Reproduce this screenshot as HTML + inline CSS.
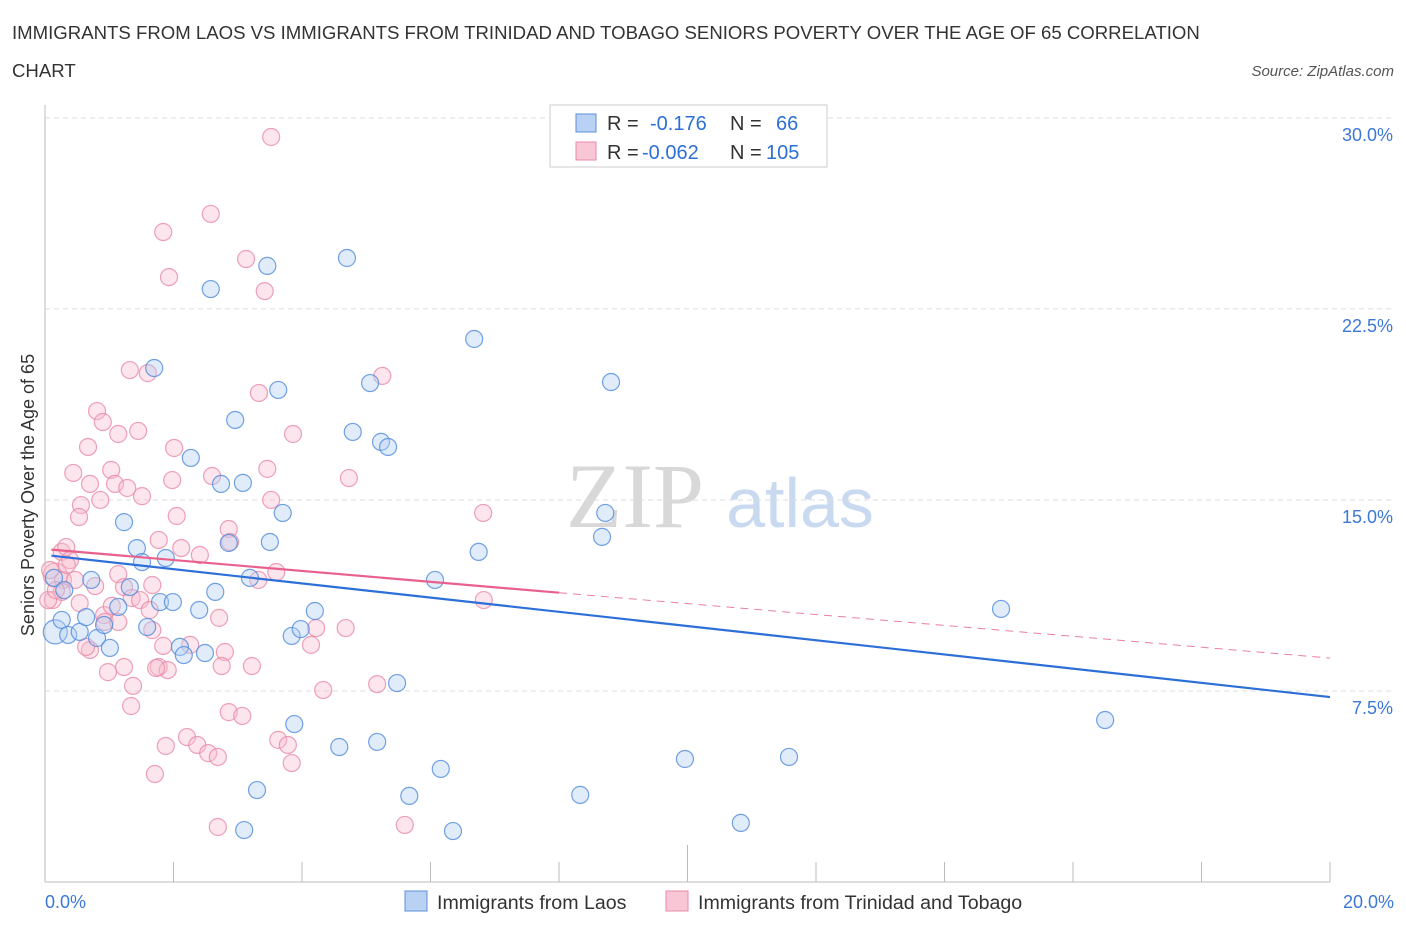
<!DOCTYPE html>
<html><head><meta charset="utf-8"><style>
body{margin:0;background:#fff;font-family:"Liberation Sans",sans-serif;}
#wrap{position:relative;width:1406px;height:930px;overflow:hidden;}
</style></head><body>
<div id="wrap">
<svg id="svg" width="1406" height="930" xmlns="http://www.w3.org/2000/svg">
<text x="12" y="39" font-size="18.6" fill="#333">IMMIGRANTS FROM LAOS VS IMMIGRANTS FROM TRINIDAD AND TOBAGO SENIORS POVERTY OVER THE AGE OF 65 CORRELATION</text>
<text x="12" y="77" font-size="18.6" fill="#333">CHART</text>
<text x="1394" y="76" font-size="15" fill="#555" font-style="italic" text-anchor="end">Source: ZipAtlas.com</text>
<text x="635" y="527" font-size="92" fill="#d8d8d8" text-anchor="middle" font-family="Liberation Serif,serif">ZIP</text>
<text x="800" y="527" font-size="70" fill="#c9daf0" text-anchor="middle">atlas</text>
<text transform="translate(34,495) rotate(-90)" font-size="18" fill="#333" text-anchor="middle">Seniors Poverty Over the Age of 65</text>
<g id="grid"></g><g id="marks"></g>
<g>
<rect x="550" y="105" width="277" height="62" fill="#fff" stroke="#ccc"/>
<rect x="576" y="114" width="20" height="18" fill="#b9d1f3" stroke="#5b8fd9"/>
<rect x="576" y="142" width="20" height="18" fill="#f8c6d4" stroke="#e98aa8"/>
<text x="607" y="130" font-size="20" fill="#333">R = <tspan x="650" fill="#2e6fd6">-0.176</tspan><tspan x="730">N =</tspan><tspan x="776" fill="#2e6fd6">66</tspan></text>
<text x="607" y="159" font-size="20" fill="#333">R = <tspan x="642" fill="#2e6fd6">-0.062</tspan><tspan x="730">N =</tspan><tspan x="766" fill="#2e6fd6">105</tspan></text>
</g>
<g>
<rect x="405" y="891" width="22" height="20" fill="#b9d1f3" stroke="#5b8fd9"/>
<text x="437" y="909" font-size="19.6" fill="#333">Immigrants from Laos</text>
<rect x="666" y="891" width="22" height="20" fill="#f8c6d4" stroke="#e98aa8"/>
<text x="698" y="909" font-size="19.6" fill="#333">Immigrants from Trinidad and Tobago</text>
</g>
</svg>
</div>
<script>
const yTicks=[7.5,15,22.5,30];
const yTickLabels=["7.5%","15.0%","22.5%","30.0%"];
const xTickLabels=["0.0%","20.0%"];
const blueX=[0.16,0.26,0.36,0.54,0.64,0.81,0.72,1.01,0.92,1.14,1.23,1.32,1.43,1.51,1.70,1.59,1.79,1.99,1.88,2.10,2.16,2.27,2.40,2.49,2.58,2.65,2.86,2.96,3.08,2.74,3.19,3.46,3.50,3.63,3.70,3.84,3.88,3.98,4.20,3.10,3.30,4.58,4.70,4.79,5.06,5.23,5.34,5.17,5.48,5.67,6.16,6.35,6.07,6.68,6.75,8.33,8.72,8.67,8.81,9.96,10.83,11.58,14.88,16.50,0.14,0.30];
const blueY=[9.82,10.29,9.70,9.82,10.40,9.58,11.86,9.19,10.09,10.80,14.13,11.58,13.11,12.56,20.18,10.01,10.99,10.99,12.72,9.23,8.91,16.65,10.68,8.99,23.28,11.39,13.31,18.14,15.67,15.63,11.94,24.19,13.35,19.32,14.49,9.66,6.20,9.93,10.64,2.04,3.61,5.30,24.50,17.67,19.59,17.28,17.08,5.50,7.81,3.38,4.44,2.00,11.86,21.32,12.96,3.42,14.49,13.55,19.63,4.83,2.32,4.91,10.72,6.36,11.94,11.46];
const pinkX=[3.52,2.58,1.84,1.93,3.13,3.42,1.32,1.60,5.25,0.81,0.90,1.14,1.45,2.01,3.33,3.86,0.67,0.44,1.03,1.09,1.51,1.28,2.60,1.98,2.05,2.86,3.46,3.52,4.73,0.56,0.53,0.86,0.70,1.14,1.23,1.77,2.12,2.41,0.26,0.33,0.39,0.16,0.28,0.47,0.26,0.12,0.54,0.78,0.92,0.93,0.70,0.64,1.14,1.35,1.67,1.48,1.67,1.77,1.91,1.73,1.23,0.98,1.37,1.34,2.26,2.71,2.80,2.75,3.22,2.86,3.07,2.21,1.88,2.37,2.54,2.69,3.63,3.78,3.84,1.71,2.69,5.60,5.17,4.33,4.14,4.22,4.68,6.82,6.83,3.60,3.32,2.88,0.05,0.17,0.08,0.34,1.04,1.63,1.84];
const pinkY=[29.25,26.23,25.52,23.75,24.46,23.20,20.10,19.98,19.87,18.49,18.06,17.59,17.71,17.04,19.20,17.59,17.08,16.06,16.18,15.63,15.15,15.47,15.94,15.78,14.37,13.86,16.22,15.00,15.86,14.80,14.33,15.00,15.63,12.09,11.58,13.43,13.11,12.84,12.96,13.15,12.64,12.05,11.86,11.86,11.39,11.07,10.95,11.62,10.48,10.21,9.11,9.23,10.21,11.15,11.66,11.07,9.89,8.44,8.32,8.40,8.44,8.24,7.70,6.91,9.31,10.37,9.03,8.48,8.48,6.67,6.52,5.69,5.34,5.38,5.06,4.91,5.58,5.38,4.67,4.24,2.16,2.24,7.77,7.54,9.31,9.97,9.97,14.49,11.07,12.17,11.86,13.35,11.07,11.46,12.25,12.45,10.84,10.68,9.27];
const blueTrend=[12.84,7.26];
const pinkTrend=[13.07,8.79];
const pinkSolidEnd=8.0;
const X0=45,X1=1330,YB=882;
const sx=v=>X0+(X1-X0)*v/20;
const sy=v=>YB-v*25.47;
const NS="http://www.w3.org/2000/svg";
function mk(tag,attrs,parent){const e=document.createElementNS(NS,tag);for(const k in attrs)e.setAttribute(k,attrs[k]);parent.appendChild(e);return e;}
const grid=document.getElementById('grid'),marks=document.getElementById('marks');
yTicks.forEach((t,i)=>{
 const l=mk('line',{x1:X0,x2:1395,y1:sy(t),y2:sy(t),stroke:'#ddd','stroke-dasharray':'5,4'},grid);
 
 
 const tx=mk('text',{x:1393,y:sy(t)+23,'font-size':18,fill:'#3b78d8','text-anchor':'end'},grid);
 tx.textContent=yTickLabels[i];
 
 
});
const ax=mk('line',{x1:X0,x2:X0,y1:105,y2:YB,stroke:'#bbb'},grid);


const bx=mk('line',{x1:X0,x2:X1,y1:YB,y2:YB,stroke:'#bbb'},grid);


for(let i=0;i<=10;i++){
 const t=mk('line',{x1:sx(i*2),x2:sx(i*2),y1:i==5?845:862,y2:YB,stroke:'#bbb'},grid);
 
 
}
[[0,'start',45],[20,'end',1394]].forEach((d,i)=>{
 const t=mk('text',{x:d[2],y:908,'font-size':18,fill:'#3b78d8','text-anchor':d[1]},grid);
 t.textContent=xTickLabels[i];
 
 
});
function pts(X,Y,fill,stroke,name,bigIdx){
 X.forEach((x,i)=>{
  const big=(i===bigIdx);
  const c=mk('circle',{cx:sx(x),cy:sy(Y[i]),r:big?12:8.5,fill:fill,'fill-opacity':0.4,stroke:stroke,'stroke-width':1.2,'stroke-opacity':0.8},marks);
  
  
 });
}
pts(pinkX,pinkY,'#f8bfd0','#e98aa8','point-trinidad',41);
pts(blueX,blueY,'#b5cff2','#4f89dc','point-laos',0);
const ln=(t,x)=>t[0]+(t[1]-t[0])*x/20;
const bl=mk('line',{x1:sx(0.1),y1:sy(ln(blueTrend,0.1)),x2:sx(20),y2:sy(blueTrend[1]),stroke:'#2d6fd8','stroke-width':2.2},marks);


const pl=mk('line',{x1:sx(0.1),y1:sy(ln(pinkTrend,0.1)),x2:sx(pinkSolidEnd),y2:sy(ln(pinkTrend,pinkSolidEnd)),stroke:'#e8608b','stroke-width':2.2},marks);


const pd=mk('line',{x1:sx(pinkSolidEnd),y1:sy(ln(pinkTrend,pinkSolidEnd)),x2:sx(20),y2:sy(pinkTrend[1]),stroke:'#e8809f','stroke-width':1,'stroke-dasharray':'8,6'},marks);


</script>
</body></html>
